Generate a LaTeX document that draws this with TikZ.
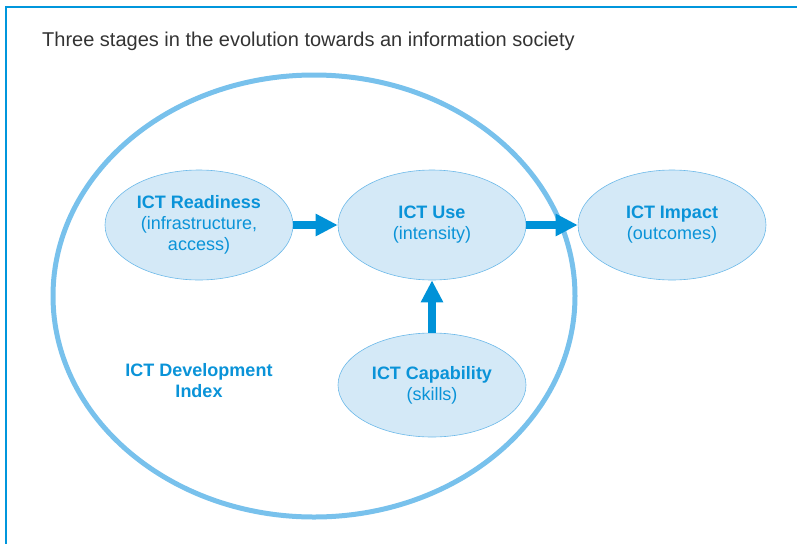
\documentclass[tikz,border=0pt]{standalone}
\usepackage{fontspec}
\setmainfont{Liberation Sans}
\usetikzlibrary{shapes.geometric,arrows.meta}
\definecolor{framecol}{HTML}{0096DC}
\definecolor{ringcol}{HTML}{78C1EC}
\definecolor{stagefill}{HTML}{D4E9F7}
\definecolor{stageline}{HTML}{6CB9E9}
\definecolor{stagetext}{HTML}{0A93D8}
\definecolor{arrowcol}{HTML}{0092D8}
\definecolor{titlecol}{HTML}{333333}
\begin{document}
\begin{tikzpicture}[x=1pt,y=-1pt,
  stage/.style={ellipse,draw=stageline,line width=0.6pt,fill=stagefill,
    minimum width=188pt,minimum height=110pt,inner sep=0pt,
    text=stagetext,align=center,font=\fontsize{18}{21}\selectfont},
  flow/.style={draw=arrowcol,line width=8pt,
    -{Triangle[width=21pt,length=22pt]}},
  label/.style={text=stagetext,align=center,font=\fontsize{18}{21}\selectfont\bfseries}]
\useasboundingbox (0,0) rectangle (797,544);
% outer frame, open on the right and bottom
\draw[framecol,line width=2.5pt] (797,7) -- (6,7) -- (6,544);
% title
\node[anchor=base west,inner sep=0pt,text=titlecol,font=\fontsize{20}{24}\selectfont] (title) at (42,46)
  {Three stages in the evolution towards an information society};
% index ring
\draw[ringcol,line width=5pt] (314,296) ellipse [x radius=261pt,y radius=221pt];
% stages
\node[stage] (ready) at (199,225) {\textbf{ICT Readiness}\\(infrastructure,\\access)};
\node[stage] (use) at (432,225) {\textbf{ICT Use}\\(intensity)};
\node[stage] (impact) at (672,225) {\textbf{ICT Impact}\\(outcomes)};
\node[stage,minimum height=104pt] (capab) at (432,385) {\textbf{ICT Capability}\\(skills)};
\node[label] (idi) at (199,381) {ICT Development\\Index};
% flows between stages
\draw[flow] (ready) -- (use);
\draw[flow] (use) -- (impact);
\draw[flow] (capab) -- (use);
\end{tikzpicture}
\end{document}
